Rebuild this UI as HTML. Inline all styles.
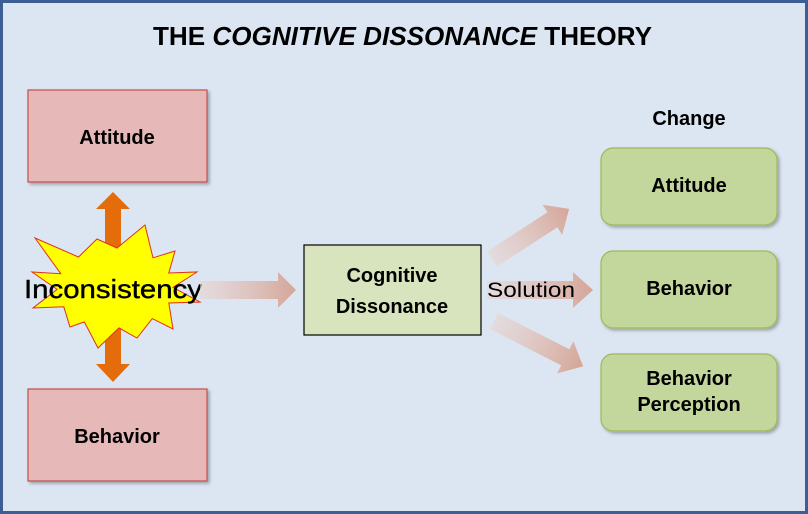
<!DOCTYPE html>
<html><head><meta charset="utf-8"><style>
html,body{margin:0;padding:0;background:#dce6f2;}
svg{display:block;font-family:"Liberation Sans",sans-serif;}
</style></head><body>
<svg width="808" height="514" viewBox="0 0 808 514" xmlns="http://www.w3.org/2000/svg">
<defs>
<linearGradient id="gh" x1="0" y1="0" x2="1" y2="0"><stop offset="0" stop-color="#e8d4d0" stop-opacity="0.6"/><stop offset="1" stop-color="#d5a597"/></linearGradient>
<filter id="sh" x="-10%" y="-10%" width="130%" height="130%"><feDropShadow dx="2" dy="2" stdDeviation="1.5" flood-color="#000" flood-opacity="0.3"/></filter>
</defs>
<rect x="1.5" y="1.5" width="805" height="511" fill="#dce6f2" stroke="#3c5e92" stroke-width="3"/>
<text x="153" y="45" font-size="26" font-weight="bold" textLength="499" lengthAdjust="spacingAndGlyphs">THE <tspan font-style="italic">COGNITIVE DISSONANCE</tspan> THEORY</text>

<rect x="28" y="90" width="179" height="92" fill="#e6b9b8" stroke="#c0504d" stroke-width="1.2" filter="url(#sh)"/>
<text x="117" y="144" font-size="20" font-weight="bold" text-anchor="middle">Attitude</text>
<rect x="28" y="389" width="179" height="92" fill="#e6b9b8" stroke="#c0504d" stroke-width="1.2" filter="url(#sh)"/>
<text x="117" y="443" font-size="20" font-weight="bold" text-anchor="middle">Behavior</text>

<polygon points="113,192 130,209 121,209 121,364 130,364 113,382 96,364 105,364 105,209 96,209" fill="#e46c0a"/>

<polygon fill="#ffff00" stroke="#e0301e" stroke-width="1" points="35,238 78.5,257 97,239 117,248 145,225 153,257.8 175,251 168.8,273 197,272 173,287.3 200,302 168.8,303 173,329 152.3,318.6 137,338 119,327.9 98,348 84.3,321.9 70,327 63.8,306.8 33,308 57.1,289.4 32,272 60.8,273.7"/>
<text x="113" y="298" font-size="26" text-anchor="middle" textLength="178" lengthAdjust="spacingAndGlyphs" stroke="#000" stroke-width="0.4">Inconsistency</text>

<polygon points="200,281 278,281 278,272 296,290 278,308 278,299 200,299" fill="url(#gh)"/>

<rect x="304" y="245" width="177" height="90" fill="#d7e4bd" stroke="#000" stroke-width="1.2"/>
<text x="392" y="282" font-size="20" font-weight="bold" text-anchor="middle">Cognitive</text>
<text x="392" y="313" font-size="20" font-weight="bold" text-anchor="middle">Dissonance</text>

<g fill="url(#gh)">
<polygon points="0,-9 72,-9 72,-18 92,0 72,18 72,9 0,9" transform="translate(492,259) rotate(-33)"/>
<polygon points="0,-9 86,-9 86,-18 106,0 86,18 86,9 0,9" transform="translate(487,290)"/>
<polygon points="0,-9 80,-9 80,-18 100,0 80,18 80,9 0,9" transform="translate(494,321) rotate(27)"/>
</g>
<text x="487" y="297" font-size="21" textLength="88" lengthAdjust="spacingAndGlyphs">Solution</text>

<text x="689" y="125" font-size="20" font-weight="bold" text-anchor="middle">Change</text>
<g fill="#c3d69b" stroke="#9bbb59" stroke-width="1.2" filter="url(#sh)">
<rect x="601" y="148" width="176" height="77" rx="12"/>
<rect x="601" y="251" width="176" height="77" rx="12"/>
<rect x="601" y="354" width="176" height="77" rx="12"/>
</g>
<g font-size="20" font-weight="bold" text-anchor="middle">
<text x="689" y="192">Attitude</text>
<text x="689" y="295">Behavior</text>
<text x="689" y="385">Behavior</text>
<text x="689" y="411">Perception</text>
</g>
</svg>
</body></html>
